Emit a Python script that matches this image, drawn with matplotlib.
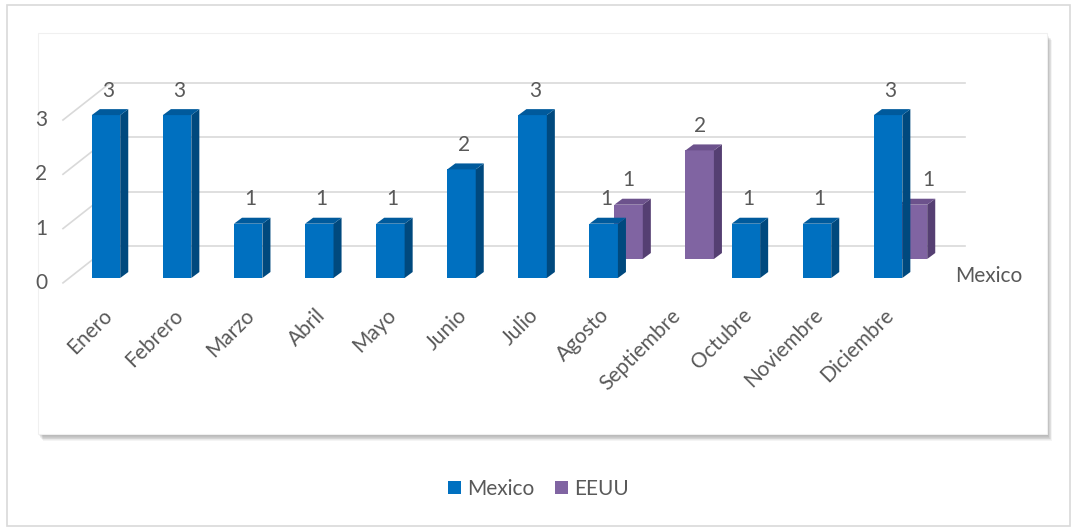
# ----------------------------------------------------------------------------------------------------
# 3D column chart (Excel style) rebuilt in 2D
# ----------------------------------------------------------------------------------------------------
import numpy as np
import matplotlib
matplotlib.use('Agg')
import matplotlib.pyplot as plt
from matplotlib.patches import Polygon, Rectangle, Patch

plt.rcParams['font.family'] = ['Lato', 'DejaVu Sans']

# ----------------------------------------------------------------------------------------------------
# data
# ----------------------------------------------------------------------------------------------------
meses = ['Enero', 'Febrero', 'Marzo', 'Abril', 'Mayo', 'Junio', 'Julio', 'Agosto',
         'Septiembre', 'Octubre', 'Noviembre', 'Diciembre']
mexico = [3, 3, 1, 1, 1, 2, 3, 1, None, 1, 1, 3]
eeuu = [None, None, None, None, None, None, None, 1, 2, None, None, 1]
series_names = ['Mexico', 'EEUU']
y_ticks = [0, 1, 2, 3]

# ----------------------------------------------------------------------------------------------------
# style / layout
# ----------------------------------------------------------------------------------------------------
W, H = 1077, 527
C_MEX = ('#0070c0', '#00497e', '#005a9c')     # front, side, top
C_USA = ('#8064a2', '#553f72', '#6c528c')
GRID = '#d9d9d9'
TXT = '#595959'
FS = 15

# pixel calibration of the projected chart (category step / value step)
X0, XSTEP = 106, 71.1
Y0, YSTEP = 278, 54.3
bar_w = 0.40
depth = (0.113, 0.11)          # bar depth offset (x, y)
row_off = (0.35, 0.35)         # offset of the back row (EEUU)
wall_front = (-0.605, -0.09)   # left wall front corner
wall_back = (0.056, 0.59)      # back wall origin
wall_right = 12.08


def fx(px):
    return px / W


def fy(py):
    return 1 - py / H


fig = plt.figure(figsize=(W / 100, H / 100), dpi=100)
fig.patch.set_facecolor('white')
ax = fig.add_axes([0, 0, 1, 1])
ax.set_xlim(-X0 / XSTEP, (W - X0) / XSTEP)
ax.set_ylim((Y0 - H) / YSTEP, Y0 / YSTEP)
ax.axis('off')

# outer border and panel with shadow
ax.add_patch(Rectangle((fx(7), fy(526)), fx(1070) - fx(7), fy(5) - fy(526), transform=ax.transAxes,
                       facecolor='white', edgecolor='#d9d9d9', lw=1.2, zorder=0))
for k in range(8, 0, -1):
    ax.add_patch(Rectangle((fx(38 + k * 0.6), fy(434 + k * 0.9)), fx(1047) - fx(38), fy(33) - fy(434),
                           transform=ax.transAxes, facecolor='black', edgecolor='none',
                           alpha=0.045, zorder=0.1))
ax.add_patch(Rectangle((fx(38), fy(434)), fx(1047) - fx(38), fy(33) - fy(434), transform=ax.transAxes,
                       facecolor='white', edgecolor='#f0f0f0', lw=0.8, zorder=0.2))

# walls: grid lines on back wall and left wall
for v in y_ticks:
    ax.plot([wall_back[0], wall_right], [v + wall_back[1], v + wall_back[1]], color=GRID, lw=1.2, zorder=1)
    ax.plot([wall_front[0], wall_back[0]], [v + wall_front[1], v + wall_back[1]], color=GRID, lw=1.2, zorder=1)
    ax.text(wall_front[0] - 0.22, v + wall_front[1], str(v), ha='right', va='center',
            fontsize=FS, color=TXT)


# ----------------------------------------------------------------------------------------------------
# draw one 3D column
# ----------------------------------------------------------------------------------------------------
def draw_bar(x, val, base, colors, z, label_dx=0.03):
    if val is None:
        return
    l, r = x - bar_w / 2, x + bar_w / 2
    top = base + val
    dx, dy = depth
    ax.bar(x, val, width=bar_w, bottom=base, color=colors[0], edgecolor='none', zorder=z)
    ax.add_patch(Polygon([(r, base), (r + dx, base + dy), (r + dx, top + dy), (r, top)],
                         closed=True, facecolor=colors[1], edgecolor='none', zorder=z))
    ax.add_patch(Polygon([(l, top), (r, top), (r + dx, top + dy), (l + dx, top + dy)],
                         closed=True, facecolor=colors[2], edgecolor='none', zorder=z))
    ax.text(x + label_dx, top + 0.45, str(val), ha='center', va='center', fontsize=FS, color=TXT,
            zorder=5)


xs = np.arange(len(meses))
# back row first; label moves to the visible part when hidden by the front bar
for i, v in enumerate(eeuu):
    hidden = v is not None and mexico[i] is not None and mexico[i] > v
    draw_bar(xs[i] + row_off[0], v, row_off[1], C_USA, 2 + i * 0.01, 0.22 if hidden else 0.0)
for i, v in enumerate(mexico):
    draw_bar(xs[i], v, 0, C_MEX, 3 + i * 0.01)

# category labels
for i, m in enumerate(meses):
    ax.text(xs[i] - 0.06, -0.5, m, rotation=45, rotation_mode='anchor', ha='right', va='top',
            fontsize=FS, color=TXT)

# depth axis label
ax.text(11.94, 0.04, series_names[0], ha='left', va='center', fontsize=FS, color=TXT)

# legend
handles = [Patch(facecolor=C_MEX[0]), Patch(facecolor=C_USA[0])]
fig.legend(handles, series_names, loc='center', bbox_to_anchor=(0.5, fy(489)), ncol=2, frameon=False,
           handlelength=0.6, handleheight=0.6, handletextpad=0.3, columnspacing=1.0,
           fontsize=FS, labelcolor=TXT)

fig.savefig('out.png', dpi=100, facecolor='white')
